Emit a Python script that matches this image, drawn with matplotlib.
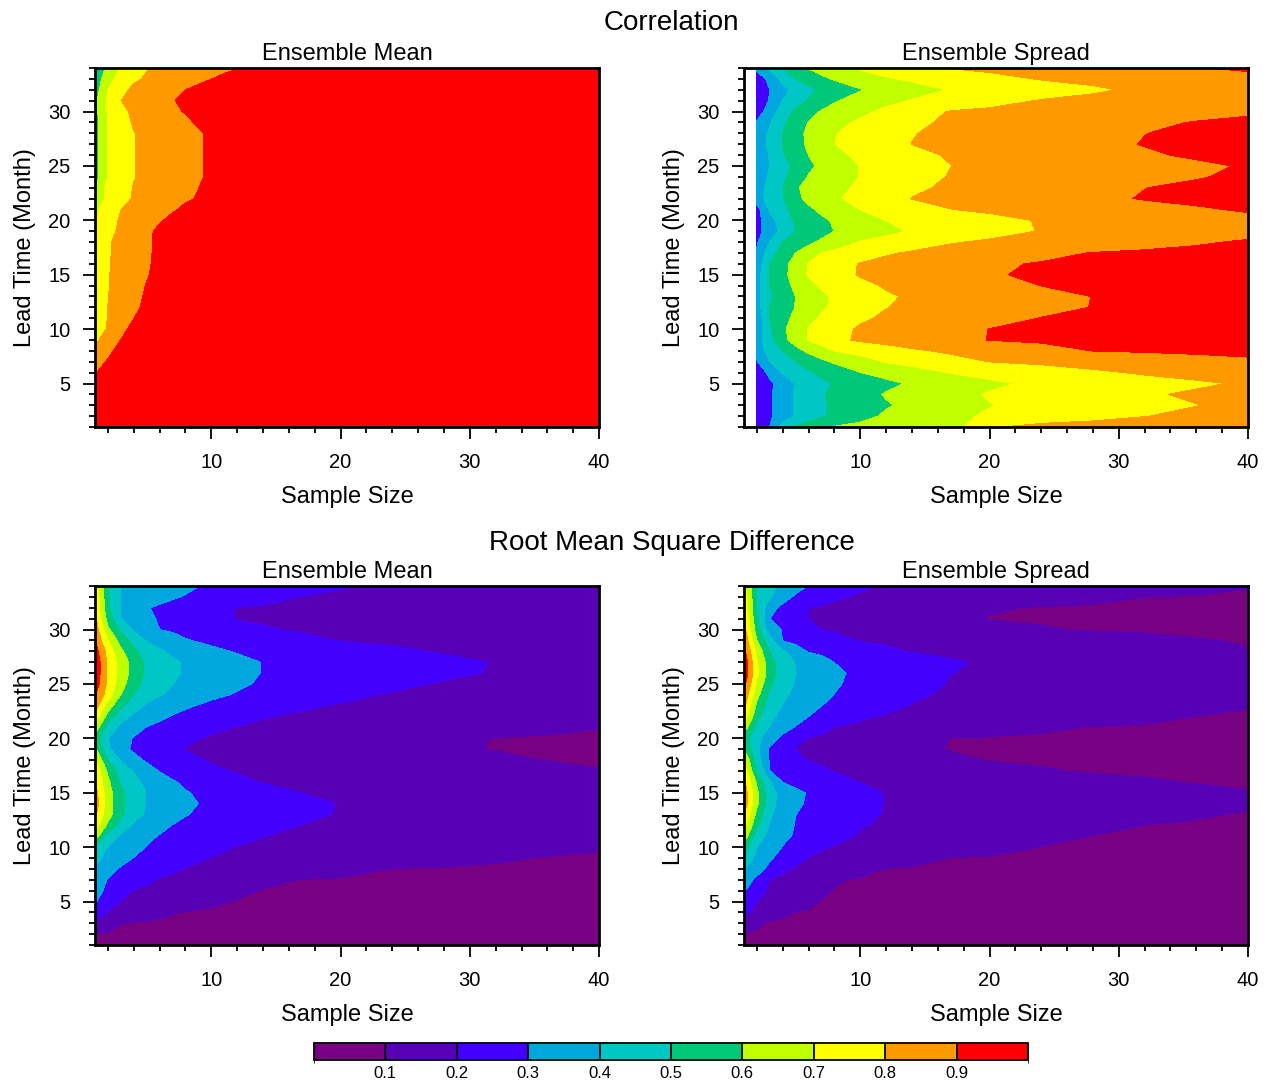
import matplotlib
matplotlib.use("Agg")
import matplotlib.pyplot as plt
from matplotlib.colors import ListedColormap, BoundaryNorm
from matplotlib.cm import ScalarMappable
from matplotlib.ticker import MultipleLocator

plt.rcParams["font.family"] = ["Liberation Sans", "DejaVu Sans"]

# lead time (month) rows, shared by all four panels
lead_time = [1, 2, 3, 4, 5, 6, 7, 8, 9, 10, 11, 12, 13, 14, 15, 16, 17,
             18, 19, 20, 21, 22, 23, 24, 25, 26, 27, 28, 29, 30, 31, 32, 33, 34]

# sample size columns of each field
size_corr_mean = [1, 2, 3, 4, 5, 6, 7, 8, 9, 10, 11, 12, 14, 40]
size_corr_spread = [2, 3, 4, 5, 6, 7, 8, 10, 12, 14, 17, 20, 24, 28, 32, 36, 40]
size_rmsd = [1, 2, 3, 4, 5, 6, 7, 8, 10, 12, 14, 17, 20, 24, 28, 32, 36, 40]

# correlation, ensemble mean (rows = lead time 1..34)
corr_mean = [
    [0.93, 0.95, 0.95, 0.95, 0.95, 0.95, 0.95, 0.95, 0.95, 0.95, 0.95, 0.95, 0.95, 0.95],
    [0.93, 0.95, 0.95, 0.95, 0.95, 0.95, 0.95, 0.95, 0.95, 0.95, 0.95, 0.95, 0.95, 0.95],
    [0.93, 0.95, 0.95, 0.95, 0.95, 0.95, 0.95, 0.95, 0.95, 0.95, 0.95, 0.95, 0.95, 0.95],
    [0.92, 0.95, 0.95, 0.95, 0.95, 0.95, 0.95, 0.95, 0.95, 0.95, 0.95, 0.95, 0.95, 0.95],
    [0.91, 0.94, 0.95, 0.95, 0.95, 0.95, 0.95, 0.95, 0.95, 0.95, 0.95, 0.95, 0.95, 0.95],
    [0.895, 0.93, 0.95, 0.95, 0.95, 0.95, 0.95, 0.95, 0.95, 0.95, 0.95, 0.95, 0.95, 0.95],
    [0.864, 0.909, 0.94, 0.95, 0.95, 0.95, 0.95, 0.95, 0.95, 0.95, 0.95, 0.95, 0.95, 0.95],
    [0.818, 0.877, 0.935, 0.95, 0.95, 0.95, 0.95, 0.95, 0.95, 0.95, 0.95, 0.95, 0.95, 0.95],
    [0.782, 0.841, 0.901, 0.95, 0.95, 0.95, 0.95, 0.95, 0.95, 0.95, 0.95, 0.95, 0.95, 0.95],
    [0.748, 0.809, 0.87, 0.93, 0.95, 0.95, 0.95, 0.95, 0.95, 0.95, 0.95, 0.95, 0.95, 0.95],
    [0.75, 0.802, 0.85, 0.898, 0.95, 0.95, 0.95, 0.95, 0.95, 0.95, 0.95, 0.95, 0.95, 0.95],
    [0.75, 0.801, 0.841, 0.882, 0.92, 0.95, 0.95, 0.95, 0.95, 0.95, 0.95, 0.95, 0.95, 0.95],
    [0.74, 0.798, 0.836, 0.874, 0.911, 0.95, 0.95, 0.95, 0.95, 0.95, 0.95, 0.95, 0.95, 0.95],
    [0.74, 0.796, 0.832, 0.868, 0.904, 0.94, 0.95, 0.95, 0.95, 0.95, 0.95, 0.95, 0.95, 0.95],
    [0.73, 0.795, 0.828, 0.861, 0.893, 0.93, 0.95, 0.95, 0.95, 0.95, 0.95, 0.95, 0.95, 0.95],
    [0.73, 0.794, 0.825, 0.856, 0.887, 0.925, 0.95, 0.95, 0.95, 0.95, 0.95, 0.95, 0.95, 0.95],
    [0.72, 0.792, 0.823, 0.855, 0.886, 0.92, 0.95, 0.95, 0.95, 0.95, 0.95, 0.95, 0.95, 0.95],
    [0.715, 0.791, 0.822, 0.853, 0.884, 0.92, 0.95, 0.95, 0.95, 0.95, 0.95, 0.95, 0.95, 0.95],
    [0.699, 0.771, 0.819, 0.852, 0.884, 0.916, 0.95, 0.95, 0.95, 0.95, 0.95, 0.95, 0.95, 0.95],
    [0.69, 0.759, 0.811, 0.838, 0.865, 0.892, 0.92, 0.95, 0.95, 0.95, 0.95, 0.95, 0.95, 0.95],
    [0.682, 0.741, 0.799, 0.823, 0.845, 0.868, 0.891, 0.915, 0.94, 0.95, 0.95, 0.95, 0.95, 0.95],
    [0.61, 0.73, 0.78, 0.805, 0.83, 0.85, 0.87, 0.89, 0.905, 0.93, 0.95, 0.95, 0.95, 0.95],
    [0.59, 0.74, 0.775, 0.803, 0.82, 0.84, 0.86, 0.88, 0.899, 0.925, 0.95, 0.95, 0.95, 0.95],
    [0.56, 0.701, 0.75, 0.797, 0.815, 0.83, 0.85, 0.865, 0.89, 0.915, 0.94, 0.95, 0.95, 0.95],
    [0.56, 0.701, 0.75, 0.797, 0.815, 0.83, 0.85, 0.865, 0.89, 0.915, 0.94, 0.95, 0.95, 0.95],
    [0.56, 0.701, 0.75, 0.797, 0.815, 0.83, 0.85, 0.865, 0.89, 0.915, 0.94, 0.95, 0.95, 0.95],
    [0.56, 0.701, 0.75, 0.797, 0.815, 0.83, 0.85, 0.865, 0.89, 0.915, 0.94, 0.95, 0.95, 0.95],
    [0.56, 0.701, 0.75, 0.797, 0.815, 0.83, 0.85, 0.865, 0.89, 0.915, 0.94, 0.95, 0.95, 0.95],
    [0.56, 0.701, 0.76, 0.81, 0.83, 0.85, 0.865, 0.885, 0.91, 0.93, 0.95, 0.95, 0.95, 0.95],
    [0.57, 0.71, 0.77, 0.82, 0.84, 0.86, 0.885, 0.905, 0.93, 0.95, 0.95, 0.95, 0.95, 0.95],
    [0.575, 0.72, 0.799, 0.83, 0.85, 0.87, 0.895, 0.92, 0.94, 0.95, 0.95, 0.95, 0.95, 0.95],
    [0.55, 0.699, 0.77, 0.82, 0.84, 0.86, 0.88, 0.899, 0.92, 0.94, 0.95, 0.95, 0.95, 0.95],
    [0.53, 0.67, 0.73, 0.785, 0.81, 0.83, 0.845, 0.86, 0.88, 0.899, 0.92, 0.94, 0.95, 0.95],
    [0.52, 0.62, 0.71, 0.76, 0.795, 0.815, 0.83, 0.845, 0.86, 0.87, 0.88, 0.895, 0.93, 0.95],
]

# correlation, ensemble spread
corr_spread = [
    [0.25, 0.302, 0.45, 0.518, 0.554, 0.589, 0.606, 0.622, 0.639, 0.655, 0.66, 0.79, 0.83, 0.84, 0.845, 0.85, 0.86],
    [0.225, 0.287, 0.35, 0.408, 0.448, 0.488, 0.519, 0.573, 0.613, 0.64, 0.68, 0.711, 0.74, 0.769, 0.798, 0.819, 0.84],
    [0.225, 0.287, 0.35, 0.408, 0.448, 0.488, 0.514, 0.553, 0.592, 0.621, 0.659, 0.697, 0.723, 0.748, 0.773, 0.798, 0.82],
    [0.22, 0.287, 0.353, 0.412, 0.452, 0.492, 0.519, 0.565, 0.607, 0.633, 0.673, 0.707, 0.734, 0.762, 0.789, 0.813, 0.835],
    [0.219, 0.281, 0.344, 0.404, 0.441, 0.478, 0.507, 0.543, 0.579, 0.61, 0.648, 0.685, 0.716, 0.74, 0.764, 0.787, 0.81],
    [0.236, 0.327, 0.408, 0.448, 0.488, 0.519, 0.546, 0.599, 0.631, 0.662, 0.704, 0.726, 0.756, 0.785, 0.81, 0.83, 0.85],
    [0.295, 0.401, 0.45, 0.501, 0.54, 0.58, 0.612, 0.662, 0.706, 0.729, 0.765, 0.801, 0.817, 0.834, 0.851, 0.868, 0.885],
    [0.357, 0.429, 0.501, 0.567, 0.62, 0.66, 0.701, 0.729, 0.757, 0.786, 0.816, 0.839, 0.87, 0.901, 0.908, 0.915, 0.92],
    [0.356, 0.467, 0.57, 0.644, 0.704, 0.741, 0.778, 0.813, 0.832, 0.851, 0.879, 0.902, 0.912, 0.92, 0.926, 0.932, 0.938],
    [0.343, 0.486, 0.582, 0.65, 0.706, 0.739, 0.771, 0.81, 0.829, 0.847, 0.875, 0.901, 0.912, 0.921, 0.928, 0.935, 0.94],
    [0.333, 0.501, 0.567, 0.625, 0.675, 0.713, 0.738, 0.788, 0.812, 0.827, 0.85, 0.874, 0.902, 0.912, 0.92, 0.928, 0.935],
    [0.357, 0.501, 0.553, 0.604, 0.646, 0.688, 0.715, 0.756, 0.798, 0.813, 0.832, 0.852, 0.879, 0.902, 0.911, 0.92, 0.93],
    [0.362, 0.488, 0.547, 0.601, 0.642, 0.683, 0.712, 0.751, 0.79, 0.81, 0.829, 0.849, 0.875, 0.901, 0.91, 0.919, 0.928],
    [0.357, 0.501, 0.563, 0.621, 0.674, 0.711, 0.733, 0.778, 0.808, 0.823, 0.847, 0.87, 0.901, 0.911, 0.92, 0.928, 0.935],
    [0.357, 0.501, 0.571, 0.646, 0.709, 0.737, 0.766, 0.807, 0.825, 0.843, 0.87, 0.896, 0.907, 0.916, 0.924, 0.931, 0.94],
    [0.333, 0.501, 0.567, 0.638, 0.706, 0.733, 0.761, 0.805, 0.822, 0.839, 0.864, 0.89, 0.905, 0.915, 0.922, 0.929, 0.935],
    [0.314, 0.457, 0.541, 0.601, 0.65, 0.701, 0.718, 0.755, 0.791, 0.81, 0.831, 0.852, 0.88, 0.903, 0.912, 0.921, 0.93],
    [0.289, 0.401, 0.501, 0.54, 0.58, 0.617, 0.65, 0.706, 0.731, 0.756, 0.794, 0.812, 0.832, 0.851, 0.871, 0.89, 0.91],
    [0.267, 0.35, 0.429, 0.501, 0.533, 0.567, 0.601, 0.638, 0.677, 0.708, 0.738, 0.769, 0.804, 0.82, 0.837, 0.854, 0.87],
    [0.267, 0.362, 0.45, 0.514, 0.548, 0.583, 0.611, 0.656, 0.701, 0.719, 0.748, 0.776, 0.806, 0.824, 0.841, 0.858, 0.875],
    [0.26, 0.418, 0.476, 0.532, 0.584, 0.619, 0.647, 0.701, 0.73, 0.758, 0.799, 0.814, 0.833, 0.852, 0.871, 0.89, 0.91],
    [0.369, 0.431, 0.494, 0.575, 0.623, 0.655, 0.687, 0.73, 0.768, 0.802, 0.819, 0.836, 0.86, 0.883, 0.905, 0.92, 0.935],
    [0.357, 0.429, 0.501, 0.591, 0.623, 0.649, 0.674, 0.717, 0.752, 0.786, 0.813, 0.83, 0.853, 0.876, 0.899, 0.914, 0.93],
    [0.347, 0.413, 0.48, 0.547, 0.605, 0.63, 0.655, 0.703, 0.735, 0.768, 0.805, 0.819, 0.838, 0.857, 0.876, 0.895, 0.915],
    [0.34, 0.401, 0.463, 0.524, 0.582, 0.62, 0.649, 0.703, 0.73, 0.758, 0.799, 0.813, 0.832, 0.85, 0.869, 0.887, 0.906],
    [0.325, 0.408, 0.492, 0.547, 0.601, 0.638, 0.677, 0.72, 0.749, 0.778, 0.808, 0.825, 0.847, 0.869, 0.891, 0.91, 0.93],
    [0.346, 0.423, 0.501, 0.563, 0.617, 0.658, 0.699, 0.734, 0.769, 0.801, 0.818, 0.836, 0.859, 0.882, 0.903, 0.918, 0.935],
    [0.335, 0.417, 0.501, 0.567, 0.619, 0.658, 0.696, 0.731, 0.764, 0.797, 0.816, 0.832, 0.855, 0.877, 0.899, 0.915, 0.93],
    [0.31, 0.391, 0.482, 0.547, 0.603, 0.635, 0.668, 0.717, 0.752, 0.786, 0.811, 0.826, 0.846, 0.865, 0.885, 0.904, 0.92],
    [0.25, 0.35, 0.445, 0.519, 0.567, 0.607, 0.63, 0.677, 0.722, 0.765, 0.805, 0.815, 0.829, 0.843, 0.857, 0.871, 0.885],
    [0.22, 0.309, 0.401, 0.456, 0.508, 0.55, 0.592, 0.634, 0.672, 0.706, 0.739, 0.772, 0.805, 0.819, 0.833, 0.846, 0.86],
    [0.24, 0.301, 0.371, 0.429, 0.476, 0.514, 0.541, 0.595, 0.63, 0.662, 0.705, 0.728, 0.758, 0.789, 0.814, 0.837, 0.86],
    [0.23, 0.333, 0.429, 0.501, 0.54, 0.58, 0.61, 0.65, 0.69, 0.715, 0.744, 0.774, 0.805, 0.818, 0.832, 0.846, 0.86],
    [0.34, 0.417, 0.501, 0.556, 0.606, 0.635, 0.665, 0.712, 0.741, 0.77, 0.804, 0.818, 0.837, 0.856, 0.875, 0.894, 0.92],
]

# root mean square difference, ensemble mean
rmsd_mean = [
    [0.08, 0.075, 0.07, 0.068, 0.066, 0.064, 0.062, 0.06, 0.058, 0.056, 0.054, 0.052, 0.05, 0.048, 0.046, 0.044, 0.042, 0.04],
    [0.098, 0.09, 0.085, 0.08, 0.078, 0.076, 0.074, 0.072, 0.07, 0.068, 0.066, 0.064, 0.062, 0.06, 0.058, 0.056, 0.054, 0.052],
    [0.18, 0.14, 0.103, 0.094, 0.09, 0.088, 0.086, 0.084, 0.08, 0.078, 0.076, 0.073, 0.07, 0.067, 0.064, 0.062, 0.06, 0.058],
    [0.27, 0.195, 0.177, 0.158, 0.14, 0.122, 0.104, 0.097, 0.092, 0.089, 0.086, 0.083, 0.08, 0.077, 0.074, 0.071, 0.068, 0.066],
    [0.31, 0.25, 0.199, 0.186, 0.174, 0.161, 0.149, 0.136, 0.111, 0.098, 0.094, 0.09, 0.087, 0.084, 0.081, 0.078, 0.075, 0.072],
    [0.33, 0.281, 0.233, 0.197, 0.186, 0.175, 0.164, 0.153, 0.132, 0.11, 0.098, 0.094, 0.09, 0.087, 0.084, 0.081, 0.078, 0.075],
    [0.36, 0.295, 0.268, 0.241, 0.214, 0.195, 0.185, 0.175, 0.155, 0.134, 0.114, 0.098, 0.095, 0.091, 0.088, 0.085, 0.082, 0.08],
    [0.39, 0.33, 0.29, 0.27, 0.25, 0.23, 0.21, 0.197, 0.185, 0.172, 0.16, 0.142, 0.123, 0.099, 0.095, 0.092, 0.089, 0.086],
    [0.43, 0.373, 0.335, 0.298, 0.28, 0.262, 0.244, 0.225, 0.198, 0.189, 0.181, 0.169, 0.157, 0.14, 0.124, 0.108, 0.097, 0.094],
    [0.5, 0.394, 0.361, 0.329, 0.298, 0.283, 0.267, 0.252, 0.22, 0.198, 0.191, 0.181, 0.171, 0.158, 0.145, 0.132, 0.118, 0.105],
    [0.65, 0.463, 0.384, 0.352, 0.319, 0.295, 0.284, 0.272, 0.249, 0.225, 0.201, 0.19, 0.179, 0.165, 0.151, 0.137, 0.124, 0.11],
    [0.75, 0.58, 0.46, 0.388, 0.356, 0.325, 0.298, 0.288, 0.267, 0.246, 0.226, 0.199, 0.187, 0.173, 0.158, 0.144, 0.129, 0.115],
    [0.82, 0.64, 0.52, 0.436, 0.386, 0.358, 0.331, 0.303, 0.282, 0.263, 0.244, 0.215, 0.195, 0.18, 0.165, 0.15, 0.135, 0.12],
    [0.86, 0.64, 0.52, 0.45, 0.397, 0.369, 0.342, 0.314, 0.286, 0.267, 0.248, 0.22, 0.197, 0.181, 0.166, 0.151, 0.135, 0.12],
    [0.84, 0.64, 0.52, 0.45, 0.397, 0.367, 0.336, 0.305, 0.279, 0.255, 0.232, 0.199, 0.188, 0.172, 0.156, 0.14, 0.125, 0.11],
    [0.8, 0.62, 0.49, 0.42, 0.381, 0.344, 0.307, 0.286, 0.252, 0.217, 0.196, 0.186, 0.175, 0.161, 0.147, 0.133, 0.119, 0.105],
    [0.77, 0.58, 0.45, 0.395, 0.342, 0.296, 0.274, 0.253, 0.211, 0.195, 0.188, 0.178, 0.168, 0.155, 0.142, 0.129, 0.115, 0.102],
    [0.72, 0.5, 0.394, 0.331, 0.288, 0.263, 0.239, 0.215, 0.195, 0.187, 0.179, 0.168, 0.157, 0.141, 0.126, 0.111, 0.099, 0.095],
    [0.62, 0.42, 0.331, 0.286, 0.262, 0.238, 0.214, 0.198, 0.189, 0.18, 0.171, 0.157, 0.144, 0.126, 0.107, 0.098, 0.094, 0.09],
    [0.57, 0.401, 0.341, 0.294, 0.273, 0.252, 0.231, 0.21, 0.193, 0.185, 0.176, 0.163, 0.15, 0.133, 0.115, 0.098, 0.094, 0.09],
    [0.66, 0.46, 0.378, 0.335, 0.297, 0.28, 0.264, 0.248, 0.216, 0.197, 0.19, 0.18, 0.169, 0.156, 0.142, 0.129, 0.115, 0.102],
    [0.77, 0.56, 0.44, 0.381, 0.348, 0.316, 0.294, 0.281, 0.255, 0.229, 0.203, 0.192, 0.18, 0.166, 0.152, 0.138, 0.124, 0.11],
    [0.85, 0.65, 0.52, 0.44, 0.387, 0.362, 0.336, 0.31, 0.284, 0.262, 0.24, 0.208, 0.195, 0.177, 0.163, 0.149, 0.134, 0.12],
    [0.91, 0.75, 0.6, 0.5, 0.44, 0.407, 0.384, 0.361, 0.316, 0.294, 0.276, 0.25, 0.218, 0.193, 0.177, 0.161, 0.146, 0.13],
    [0.96, 0.78, 0.64, 0.54, 0.47, 0.43, 0.401, 0.383, 0.347, 0.312, 0.291, 0.269, 0.247, 0.218, 0.193, 0.175, 0.158, 0.14],
    [0.98, 0.78, 0.66, 0.56, 0.48, 0.43, 0.41, 0.393, 0.359, 0.324, 0.297, 0.279, 0.262, 0.239, 0.216, 0.194, 0.172, 0.15],
    [0.98, 0.78, 0.66, 0.56, 0.48, 0.43, 0.41, 0.393, 0.359, 0.325, 0.297, 0.279, 0.263, 0.241, 0.218, 0.197, 0.178, 0.16],
    [0.95, 0.76, 0.62, 0.52, 0.46, 0.41, 0.386, 0.364, 0.318, 0.294, 0.281, 0.262, 0.24, 0.214, 0.193, 0.179, 0.164, 0.15],
    [0.9, 0.7, 0.56, 0.46, 0.394, 0.365, 0.335, 0.306, 0.282, 0.264, 0.246, 0.218, 0.197, 0.186, 0.174, 0.163, 0.151, 0.14],
    [0.86, 0.62, 0.48, 0.387, 0.343, 0.3, 0.288, 0.276, 0.253, 0.229, 0.206, 0.193, 0.185, 0.174, 0.163, 0.152, 0.141, 0.13],
    [0.83, 0.56, 0.401, 0.36, 0.32, 0.291, 0.273, 0.255, 0.22, 0.197, 0.192, 0.184, 0.175, 0.164, 0.153, 0.142, 0.131, 0.12],
    [0.8, 0.52, 0.395, 0.35, 0.305, 0.286, 0.27, 0.255, 0.223, 0.198, 0.192, 0.183, 0.174, 0.162, 0.151, 0.14, 0.128, 0.117],
    [0.78, 0.52, 0.396, 0.374, 0.353, 0.332, 0.311, 0.295, 0.273, 0.251, 0.229, 0.198, 0.188, 0.173, 0.159, 0.144, 0.13, 0.115],
    [0.75, 0.5, 0.397, 0.38, 0.365, 0.349, 0.333, 0.317, 0.286, 0.269, 0.252, 0.226, 0.206, 0.185, 0.166, 0.147, 0.129, 0.11],
]

# root mean square difference, ensemble spread
rmsd_spread = [
    [0.08, 0.075, 0.07, 0.068, 0.066, 0.064, 0.062, 0.06, 0.058, 0.056, 0.054, 0.052, 0.05, 0.048, 0.046, 0.044, 0.042, 0.04],
    [0.095, 0.088, 0.083, 0.08, 0.078, 0.076, 0.074, 0.072, 0.07, 0.068, 0.066, 0.064, 0.062, 0.06, 0.058, 0.056, 0.054, 0.052],
    [0.17, 0.115, 0.088, 0.085, 0.083, 0.081, 0.079, 0.077, 0.074, 0.071, 0.068, 0.065, 0.062, 0.059, 0.056, 0.053, 0.05, 0.048],
    [0.22, 0.179, 0.15, 0.121, 0.097, 0.093, 0.09, 0.088, 0.085, 0.082, 0.079, 0.075, 0.071, 0.067, 0.063, 0.06, 0.057, 0.055],
    [0.28, 0.201, 0.179, 0.158, 0.138, 0.117, 0.098, 0.094, 0.09, 0.087, 0.084, 0.08, 0.076, 0.072, 0.068, 0.065, 0.062, 0.06],
    [0.31, 0.231, 0.188, 0.169, 0.149, 0.129, 0.11, 0.098, 0.094, 0.091, 0.088, 0.084, 0.08, 0.076, 0.072, 0.069, 0.066, 0.063],
    [0.35, 0.28, 0.196, 0.178, 0.159, 0.141, 0.122, 0.104, 0.096, 0.093, 0.09, 0.086, 0.082, 0.078, 0.075, 0.072, 0.069, 0.066],
    [0.41, 0.339, 0.276, 0.218, 0.191, 0.177, 0.164, 0.15, 0.123, 0.098, 0.095, 0.091, 0.087, 0.083, 0.079, 0.076, 0.073, 0.07],
    [0.47, 0.371, 0.312, 0.269, 0.231, 0.198, 0.189, 0.179, 0.161, 0.142, 0.124, 0.099, 0.095, 0.091, 0.087, 0.083, 0.079, 0.076],
    [0.55, 0.401, 0.347, 0.297, 0.267, 0.236, 0.206, 0.195, 0.183, 0.171, 0.16, 0.142, 0.124, 0.099, 0.095, 0.091, 0.087, 0.083],
    [0.66, 0.45, 0.368, 0.316, 0.293, 0.27, 0.248, 0.225, 0.193, 0.183, 0.172, 0.156, 0.141, 0.12, 0.099, 0.095, 0.091, 0.087],
    [0.74, 0.52, 0.394, 0.339, 0.295, 0.276, 0.258, 0.24, 0.204, 0.192, 0.182, 0.168, 0.155, 0.137, 0.118, 0.0995, 0.096, 0.092],
    [0.8, 0.57, 0.412, 0.356, 0.301, 0.283, 0.266, 0.249, 0.215, 0.196, 0.188, 0.176, 0.165, 0.15, 0.134, 0.119, 0.104, 0.097],
    [0.86, 0.62, 0.43, 0.367, 0.311, 0.293, 0.276, 0.259, 0.225, 0.197, 0.19, 0.18, 0.17, 0.157, 0.144, 0.131, 0.118, 0.105],
    [0.86, 0.62, 0.43, 0.368, 0.316, 0.295, 0.278, 0.261, 0.22, 0.197, 0.19, 0.18, 0.17, 0.156, 0.142, 0.129, 0.116, 0.103],
    [0.82, 0.58, 0.412, 0.297, 0.279, 0.262, 0.245, 0.228, 0.198, 0.19, 0.182, 0.17, 0.157, 0.14, 0.124, 0.108, 0.097, 0.093],
    [0.76, 0.5, 0.301, 0.278, 0.256, 0.233, 0.211, 0.197, 0.186, 0.174, 0.163, 0.146, 0.129, 0.106, 0.094, 0.09, 0.086, 0.082],
    [0.7, 0.45, 0.29, 0.255, 0.221, 0.197, 0.189, 0.182, 0.166, 0.151, 0.135, 0.112, 0.097, 0.092, 0.088, 0.084, 0.08, 0.076],
    [0.6, 0.42, 0.285, 0.235, 0.197, 0.188, 0.179, 0.171, 0.153, 0.135, 0.118, 0.097, 0.093, 0.089, 0.085, 0.081, 0.077, 0.073],
    [0.55, 0.43, 0.342, 0.274, 0.221, 0.196, 0.186, 0.177, 0.16, 0.142, 0.125, 0.099, 0.095, 0.091, 0.087, 0.083, 0.079, 0.075],
    [0.65, 0.47, 0.395, 0.342, 0.294, 0.261, 0.229, 0.199, 0.188, 0.177, 0.166, 0.15, 0.133, 0.111, 0.097, 0.094, 0.091, 0.088],
    [0.75, 0.53, 0.42, 0.377, 0.338, 0.3, 0.277, 0.255, 0.209, 0.194, 0.186, 0.174, 0.162, 0.147, 0.131, 0.115, 0.0995, 0.096],
    [0.82, 0.58, 0.45, 0.397, 0.365, 0.332, 0.301, 0.283, 0.25, 0.217, 0.197, 0.186, 0.175, 0.16, 0.145, 0.131, 0.116, 0.102],
    [0.88, 0.63, 0.48, 0.415, 0.383, 0.354, 0.326, 0.299, 0.269, 0.239, 0.209, 0.191, 0.181, 0.165, 0.15, 0.134, 0.118, 0.108],
    [0.93, 0.68, 0.52, 0.43, 0.394, 0.366, 0.337, 0.309, 0.278, 0.253, 0.228, 0.195, 0.185, 0.17, 0.155, 0.14, 0.125, 0.112],
    [0.98, 0.72, 0.55, 0.45, 0.401, 0.371, 0.343, 0.314, 0.283, 0.259, 0.236, 0.201, 0.19, 0.175, 0.159, 0.143, 0.128, 0.116],
    [0.97, 0.71, 0.54, 0.44, 0.397, 0.365, 0.332, 0.2995, 0.279, 0.259, 0.238, 0.207, 0.192, 0.178, 0.162, 0.146, 0.131, 0.118],
    [0.93, 0.67, 0.5, 0.415, 0.338, 0.293, 0.28, 0.266, 0.239, 0.212, 0.196, 0.185, 0.173, 0.158, 0.143, 0.128, 0.113, 0.103],
    [0.88, 0.6, 0.44, 0.296, 0.277, 0.258, 0.238, 0.219, 0.196, 0.189, 0.182, 0.172, 0.161, 0.147, 0.133, 0.119, 0.105, 0.095],
    [0.84, 0.55, 0.34, 0.295, 0.268, 0.242, 0.2, 0.194, 0.183, 0.172, 0.161, 0.145, 0.128, 0.105, 0.095, 0.091, 0.087, 0.083],
    [0.8, 0.52, 0.301, 0.263, 0.226, 0.199, 0.191, 0.184, 0.169, 0.154, 0.139, 0.117, 0.097, 0.093, 0.089, 0.085, 0.081, 0.077],
    [0.78, 0.5, 0.337, 0.273, 0.235, 0.199, 0.193, 0.186, 0.173, 0.16, 0.146, 0.126, 0.106, 0.096, 0.092, 0.088, 0.084, 0.08],
    [0.76, 0.5, 0.413, 0.347, 0.283, 0.258, 0.234, 0.21, 0.193, 0.185, 0.176, 0.164, 0.151, 0.134, 0.117, 0.1005, 0.097, 0.094],
    [0.72, 0.5, 0.41, 0.39, 0.342, 0.298, 0.275, 0.252, 0.208, 0.196, 0.19, 0.18, 0.171, 0.158, 0.146, 0.133, 0.12, 0.102],
]

level_bounds = [0.0, 0.1, 0.2, 0.3, 0.4, 0.5, 0.6, 0.7, 0.8, 0.9, 1.0]
level_labels = ["0.1", "0.2", "0.3", "0.4", "0.5", "0.6", "0.7", "0.8", "0.9"]

fill_colors = ["#780082", "#5700b5", "#4300ff", "#00a7de", "#00c6c6",
               "#00c878", "#bfff00", "#ffff00", "#ff9900", "#ff0000"]


def draw_panel(fig, rect, sizes, field, subtitle):
    ax = fig.add_axes(rect)
    ax.contourf(sizes, lead_time, field, levels=level_bounds,
                colors=fill_colors, extend="both")
    ax.set_xlim(1, 40)
    ax.set_ylim(1, 34)

    ax.set_xticks([10, 20, 30, 40])
    ax.set_yticks([5, 10, 15, 20, 25, 30])
    ax.xaxis.set_minor_locator(MultipleLocator(2))
    ax.yaxis.set_minor_locator(MultipleLocator(1))
    ax.tick_params(which="both", direction="out", top=False, right=False,
                   width=1.3, labelsize=14.5)
    ax.tick_params(which="major", length=8.5)
    ax.tick_params(which="minor", length=4.5)
    ax.tick_params(axis="x", which="major", pad=10)
    ax.tick_params(axis="y", which="major", pad=9)
    for side in ax.spines.values():
        side.set_linewidth(2.0)

    ax.set_xlabel("Sample Size", fontsize=17, labelpad=10)
    ax.set_ylabel("Lead Time (Month)", fontsize=17, labelpad=9)
    ax.set_title(subtitle, fontsize=17, pad=6)
    return ax


def main():
    fig = plt.figure(figsize=(12.7, 10.83), dpi=100)

    w = 0.3969
    h = 0.3315
    draw_panel(fig, [0.0748, 0.6057, w, h], size_corr_mean, corr_mean, "Ensemble Mean")
    draw_panel(fig, [0.5858, 0.6057, w, h], size_corr_spread, corr_spread, "Ensemble Spread")
    draw_panel(fig, [0.0748, 0.1274, w, h], size_rmsd, rmsd_mean, "Ensemble Mean")
    draw_panel(fig, [0.5858, 0.1274, w, h], size_rmsd, rmsd_spread, "Ensemble Spread")

    fig.text(0.529, 1 - 30 / 1083, "Correlation", ha="center", va="baseline", fontsize=20)
    fig.text(0.529, 1 - 550 / 1083, "Root Mean Square Difference",
             ha="center", va="baseline", fontsize=20)

    cax = fig.add_axes([0.2472, 0.0212, 0.5622, 0.0157])
    mappable = ScalarMappable(norm=BoundaryNorm(level_bounds, len(fill_colors)),
                              cmap=ListedColormap(fill_colors))
    cb = fig.colorbar(mappable, cax=cax, orientation="horizontal",
                      drawedges=True, ticks=level_bounds[1:-1])
    cb.set_ticklabels(level_labels)
    cb.ax.tick_params(length=0, labelsize=12, pad=4)
    cb.outline.set_linewidth(1.3)
    cb.dividers.set_linewidth(1.3)

    fig.savefig("out.png", dpi=100)


if __name__ == "__main__":
    main()
